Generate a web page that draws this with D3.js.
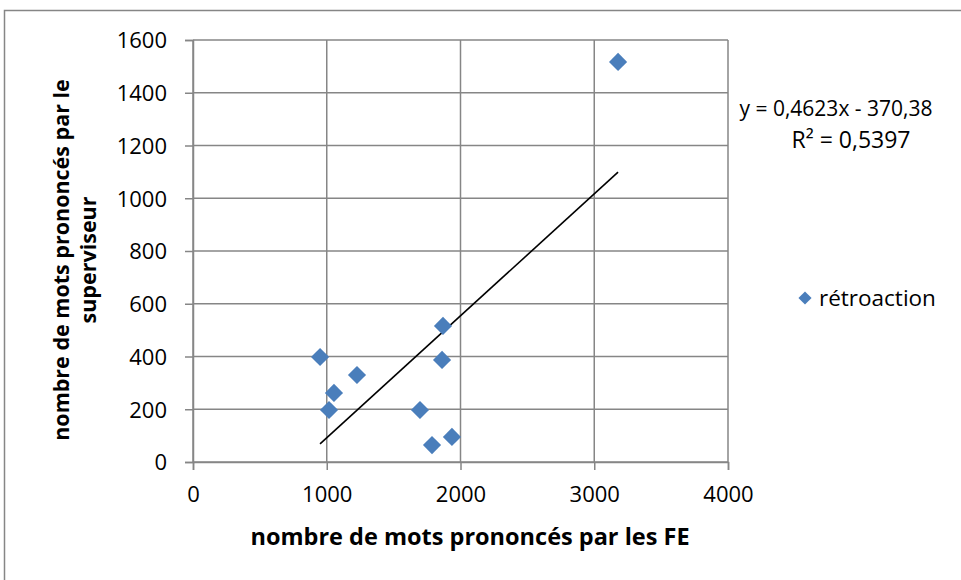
<!DOCTYPE html>
<html>
<head>
<meta charset="utf-8">
<script src="https://cdn.jsdelivr.net/npm/d3@7"></script>
<style>
  html, body { margin: 0; padding: 0; background: #fff; }
  svg { display: block; font-family: "Open Sans", sans-serif; }
</style>
</head>
<body>
<svg id="chart" width="961" height="580"></svg>
<script>
// Word counts: trainees (FE) vs supervisor, feedback sessions
const motsFE = [3178, 1869, 1862, 950, 1226, 1054, 1017, 1697, 1787, 1936];
const motsSuperviseur = [1517, 516, 387, 398, 330, 262, 197, 197, 64, 95];
const xTicks = [0, 1000, 2000, 3000, 4000];
const yTicks = [0, 200, 400, 600, 800, 1000, 1200, 1400, 1600];
const serie = "rétroaction";
const pente = 0.4623, ordonnee = -370.38, r2 = 0.5397;
const equationLabel = "y = 0,4623x - 370,38";
const r2Label = "R² = 0,5397";
const xTitle = "nombre de mots prononcés par les FE";
const yTitleLines = ["nombre de mots prononcés par le", "superviseur"];

const svg = d3.select("#chart");
const grid = "#868686";
const blue = "#4A7EBB";

// chart area frame
svg.append("rect").attr("x", 4.5).attr("y", 10.5).attr("width", 1000).attr("height", 1000)
  .attr("fill", "none").attr("stroke", grid).attr("stroke-width", 1.5);

const x = d3.scaleLinear().domain([0, 4000]).range([193, 728]);
const y = d3.scaleLinear().domain([0, 1600]).range([462, 40]);

// gridlines
svg.append("g").selectAll("line").data(yTicks).join("line")
  .attr("x1", x(0)).attr("x2", x(4000))
  .attr("y1", d => y(d)).attr("y2", d => y(d))
  .attr("stroke", grid).attr("stroke-width", 1.5);
svg.append("g").selectAll("line").data(xTicks).join("line")
  .attr("y1", y(0)).attr("y2", y(1600))
  .attr("x1", d => x(d)).attr("x2", d => x(d))
  .attr("stroke", grid).attr("stroke-width", 1.5);

// axes
const xAxis = d3.axisBottom(x).tickValues(xTicks).tickSize(8).tickPadding(16).tickFormat(d3.format("d"));
const yAxis = d3.axisLeft(y).tickValues(yTicks).tickSize(8).tickPadding(18).tickFormat(d3.format("d"));
const gx = svg.append("g").attr("transform", `translate(0,${y(0)})`).call(xAxis);
const gy = svg.append("g").attr("transform", `translate(${x(0)},0)`).call(yAxis);
[gx, gy].forEach(g => {
  g.select(".domain").attr("stroke", grid).attr("stroke-width", 1.5);
  g.selectAll(".tick line").attr("stroke", grid).attr("stroke-width", 1.5);
  g.selectAll(".tick text").attr("fill", "#000").style("font-size", "22px")
    .style("font-family", "'Open Sans', sans-serif");
});
gy.selectAll(".tick text").attr("dy", "0.36em");

// trendline over the data range
const xmin = d3.min(motsFE), xmax = d3.max(motsFE);
svg.append("line")
  .attr("x1", x(xmin)).attr("y1", y(pente * xmin + ordonnee))
  .attr("x2", x(xmax)).attr("y2", y(pente * xmax + ordonnee))
  .attr("stroke", "#000").attr("stroke-width", 1.6);

// points
const diamond = d3.symbol().type(d3.symbolDiamond2);
svg.append("g").selectAll("path").data(motsFE.map((v, i) => [v, motsSuperviseur[i]])).join("path")
  .attr("d", diamond.size(210)())
  .attr("transform", d => `translate(${x(d[0])},${y(d[1])})`)
  .attr("fill", blue);

// equation labels
svg.append("text").attr("x", 836).attr("y", 116).attr("text-anchor", "middle")
  .style("font-size", "21px").text(equationLabel);
svg.append("text").attr("x", 851).attr("y", 148).attr("text-anchor", "middle")
  .style("font-size", "23px").text(r2Label);

// legend
svg.append("path").attr("d", diamond.size(110)()).attr("transform", "translate(805,298)").attr("fill", blue);
svg.append("text").attr("x", 819).attr("y", 306).style("font-size", "22.5px").text(serie);

// axis titles
svg.append("text").attr("x", 470).attr("y", 545).attr("text-anchor", "middle")
  .style("font-size", "23.5px").style("font-weight", "bold").text(xTitle);
const yt = svg.append("text").attr("transform", "translate(0,260) rotate(-90)")
  .attr("text-anchor", "middle").style("font-size", "21.5px").style("font-weight", "bold");
yTitleLines.forEach((t, i) => yt.append("tspan").attr("x", 0).attr("y", 69 + i * 27).text(t));
</script>
</body>
</html>
